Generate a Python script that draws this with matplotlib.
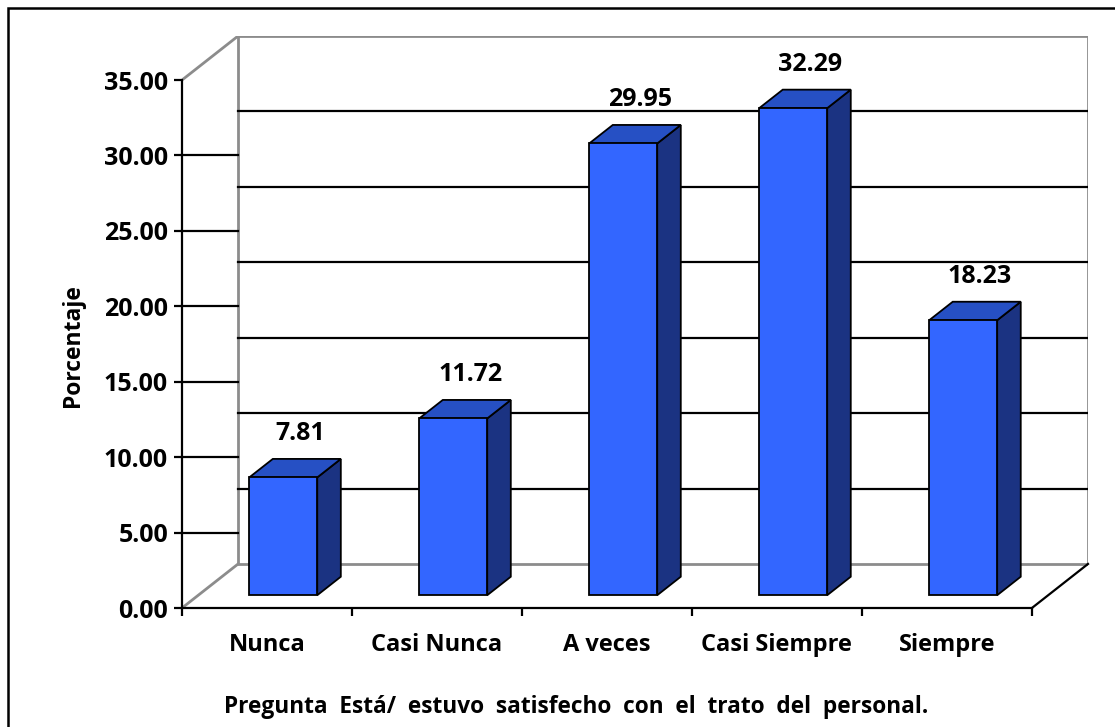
import matplotlib.pyplot as plt
from matplotlib.patches import Polygon, Rectangle

plt.rcParams['font.family'] = ['Open Sans', 'DejaVu Sans']
plt.rcParams['font.weight'] = 'bold'

categorias = ['Nunca', 'Casi Nunca', 'A veces', 'Casi Siempre', 'Siempre']
porcentajes = [7.81, 11.72, 29.95, 32.29, 18.23]
yticks = [0, 5, 10, 15, 20, 25, 30, 35]
ymax = 35

# fake 3D: depth of the box in data units, bar width/depth fractions
DX = 0.33
DY = 2.92
ancho = 0.40
f0, f1 = 0.29, 0.71

c_frente = '#3366FF'
c_techo = '#2650C4'
c_lado = '#1B3382'
gris = '#8C8C8C'

fig = plt.figure(figsize=(11.15, 7.27), dpi=100)
ax = fig.add_axes([182 / 1115, 119 / 727, 906 / 1115, 572 / 727])
ax.set_xlim(0, len(categorias) + DX)
ax.set_ylim(0, ymax + DY)
ax.patch.set_visible(False)

n = len(categorias)

# back wall and gridlines
ax.add_patch(Rectangle((DX, DY), n, ymax, fill=False, edgecolor=gris, lw=2, zorder=1))
for v in yticks[1:-1]:
    ax.plot([DX, n + DX], [v + DY, v + DY], color='black', lw=1.6, zorder=1)
    # horizontal strokes across the side wall
    ax.plot([0, DX], [v, v], color='black', lw=1.6, zorder=1, clip_on=False)
# side wall / floor edges
ax.plot([0, DX], [ymax, ymax + DY], color=gris, lw=2, zorder=1)
ax.plot([0, DX], [0, DY], color=gris, lw=2, zorder=1)
ax.plot([n, n + DX], [0, DY], color='black', lw=1.6, zorder=1, clip_on=False)

# bars
prof_x = (f1 - f0) * DX
prof_y = (f1 - f0) * DY
for i, v in enumerate(porcentajes):
    cx = i + 0.5 + f0 * DX
    y0 = f0 * DY
    xl, xr = cx - ancho / 2, cx + ancho / 2
    frente = Rectangle((xl, y0), ancho, v, facecolor=c_frente, edgecolor='black', lw=1.3, zorder=3)
    lado = Polygon([(xr, y0), (xr + prof_x, y0 + prof_y), (xr + prof_x, y0 + prof_y + v), (xr, y0 + v)],
                   closed=True, facecolor=c_lado, edgecolor='black', lw=1.3, zorder=3)
    techo = Polygon([(xl, y0 + v), (xr, y0 + v), (xr + prof_x, y0 + v + prof_y), (xl + prof_x, y0 + v + prof_y)],
                    closed=True, facecolor=c_techo, edgecolor='black', lw=1.3, zorder=3)
    ax.add_patch(lado)
    ax.add_patch(techo)
    ax.add_patch(frente)
    ax.text(cx + prof_x / 2 + 0.03, y0 + v + prof_y / 2 + 2.3, f'{v:.2f}',
            ha='center', va='center', fontsize=18, fontweight='bold', zorder=4)

# front axes
for s in ['top', 'right']:
    ax.spines[s].set_visible(False)
ax.spines['left'].set_bounds(0, ymax)
ax.spines['bottom'].set_bounds(0, n)
ax.spines['left'].set_linewidth(1.6)
ax.spines['bottom'].set_linewidth(1.6)
ax.spines['left'].set_zorder(2)

ax.set_yticks(yticks)
ax.set_yticklabels([f'{t:.2f}' for t in yticks], fontsize=18, fontweight='bold')
ax.tick_params(axis='y', length=6, width=1.6, pad=4)

ax.set_xticks(range(n + 1))
ax.set_xticklabels([])
ax.set_xticks([i + 0.5 for i in range(n)], minor=True)
ax.set_xticklabels(categorias, minor=True, fontsize=17, fontweight='bold')
ax.tick_params(axis='x', which='minor', length=0, pad=18)
ax.tick_params(axis='x', which='major', length=6, width=1.6)

fig.text(73 / 1115, 1 - 346 / 727, 'Porcentaje', rotation=90, ha='center', va='center',
         fontsize=16.5, fontweight='bold')
fig.text(576 / 1115, 1 - 707 / 727, 'Pregunta  Está/  estuvo  satisfecho  con  el  trato  del  personal.',
         ha='center', va='center', fontsize=16.3, fontweight='bold')

# outer chart border
fig.add_artist(Rectangle((8 / 1115, -0.1), 1.2, 1 - 8 / 727 + 0.1, transform=fig.transFigure,
                         fill=False, edgecolor='black', lw=1.8))

fig.savefig('out.png', dpi=100)
